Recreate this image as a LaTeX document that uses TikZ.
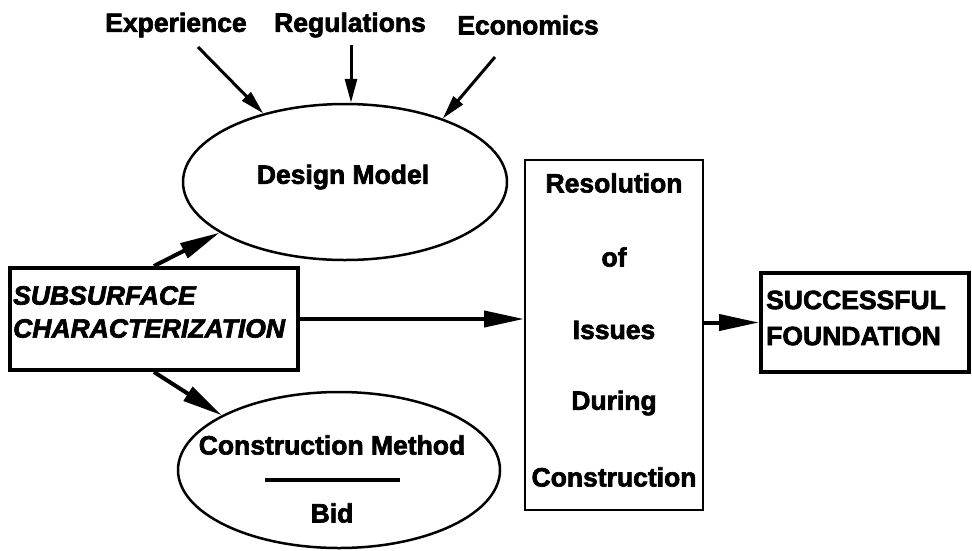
\documentclass[tikz,border=0pt]{standalone}
\usepackage{fontspec}
\setmainfont{Liberation Sans}[BoldFeatures={FakeBold=2.5},BoldItalicFeatures={FakeBold=2.5}]
\usetikzlibrary{shapes.geometric,arrows.meta}
\begin{document}
\begin{tikzpicture}[x=1pt,y=-1pt,
  every node/.style={font=\bfseries\fontsize{26.5}{34}\selectfont, inner sep=0pt},
  lbl/.style={},
  oval/.style={draw, ellipse, line width=2.5pt, inner sep=0pt},
  thickbox/.style={draw, rectangle, line width=4pt},
  thinbox/.style={draw, rectangle, line width=2pt},
  thinarr/.style={line width=3pt, -{Triangle[length=24pt,width=12pt]}},
  thickarr/.style={line width=4pt, -{Triangle[length=40pt,width=16pt]}},
]
\useasboundingbox (0,0) rectangle (972,550);

% top labels
\node[lbl] (exp) at (176,25) {Experience};
\node[lbl] (reg) at (350,25) {Regulations};
\node[lbl] (eco) at (528,25) {Economics};
\coordinate (exps) at (198,47);
\coordinate (regs) at (351,45);
\coordinate (ecos) at (495,57);

% design model
\node[oval, minimum width=324pt, minimum height=156pt] (dm) at (345,182) {};
\node[lbl] (dmt) at (343,177) {Design Model};

% construction method / bid
\node[oval, minimum width=322pt, minimum height=156pt] (cm) at (339,470) {};
\node[lbl] (cmt) at (332,445) {Construction Method};
\node[lbl] (bid) at (332,513) {Bid};
\coordinate (bl) at (265,480);
\coordinate (br) at (400,480);
\draw[line width=4pt] (bl) -- (br);

% subsurface characterization
\node[thickbox, minimum width=288pt, minimum height=102pt] (sub) at (154,319) {};
\node[lbl, anchor=west, align=left, font=\bfseries\itshape\fontsize{26.5}{33}\selectfont] (subt) at (13,312) {SUBSURFACE\\CHARACTERIZATION};

% resolution box
\node[thinbox, minimum width=178pt, minimum height=350pt] (res) at (614,335) {};
\node[lbl] (r1) at (614,183) {Resolution};
\node[lbl] (r2) at (614,257) {of};
\node[lbl] (r3) at (614,330) {Issues};
\node[lbl] (r4) at (614,403) {During};
\node[lbl] (r5) at (614,477) {Construction};

% successful foundation
\node[thickbox, minimum width=208pt, minimum height=99pt] (suc) at (865,322.5) {};
\node[lbl, anchor=west, align=left, font=\bfseries\fontsize{26.5}{36}\selectfont] (suct) at (766,318) {SUCCESSFUL\\FOUNDATION};

% arrows
\draw[thinarr] (exps) -- (dm.140);
\draw[thinarr] (regs) -- (regs |- dm.north);
\draw[thinarr] (ecos) -- (dm.33);
\draw[thickarr] (sub.north) -- (dm.202);
\draw[thickarr] (sub.south) -- (cm.155);
\draw[thickarr] (sub.east) -- (sub.east -| res.west);
\draw[thickarr] (suc.west -| res.east) -- (suc.west);
\end{tikzpicture}
\end{document}
